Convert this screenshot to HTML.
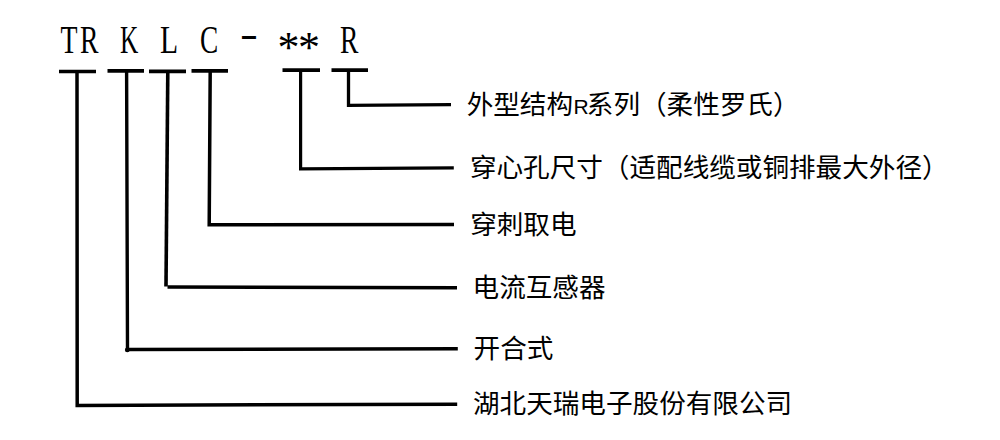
<!DOCTYPE html>
<html lang="zh-CN">
<head>
<meta charset="utf-8">
<title>TR K L C - ** R</title>
<style>
html,body{margin:0;padding:0;background:#fff;}
body{width:1000px;height:440px;overflow:hidden;position:relative;font-family:"Liberation Sans",sans-serif;}
#d{position:absolute;left:0;top:0;width:1000px;height:440px;display:block;}
.top{font-family:"Liberation Serif","Noto Serif CJK SC",serif;font-size:41px;fill:#000;}
.lab{font-family:"Liberation Sans","Noto Sans CJK SC",sans-serif;font-size:26.6px;fill:#000;}
</style>
</head>
<body>
<svg id="d" width="1000" height="440" viewBox="0 0 1000 440">
<rect width="1000" height="440" fill="#fff"/>
<g fill="#000" stroke="none">
<text class="top" x="60.6" y="52.5" textLength="17" lengthAdjust="spacingAndGlyphs">T</text>
<text class="top" x="80.1" y="52.5" textLength="18.5" lengthAdjust="spacingAndGlyphs">R</text>
<text class="top" x="119.9" y="52.5" textLength="18.3" lengthAdjust="spacingAndGlyphs">K</text>
<text class="top" x="160" y="52.5" textLength="18.1" lengthAdjust="spacingAndGlyphs">L</text>
<text class="top" x="199.9" y="52.5" textLength="18.2" lengthAdjust="spacingAndGlyphs">C</text>
<text class="top" x="240" y="47" textLength="17.9" lengthAdjust="spacingAndGlyphs">-</text>
<text class="top" x="288.6" y="62" text-anchor="middle" style="font-size:44px">*</text>
<text class="top" x="308.95" y="62" text-anchor="middle" style="font-size:44px">*</text>
<text class="top" x="340" y="52.5" textLength="18.4" lengthAdjust="spacingAndGlyphs">R</text>
<text class="lab" y="113.99"><tspan x="466.7">外型结构</tspan><tspan x="573.5" style="font-size:21px">R</tspan><tspan x="586.8">系列（柔性罗氏）</tspan></text>
<text class="lab" x="469.9" y="177.25">穿心孔尺寸（适配线缆或铜排最大外径）</text>
<text class="lab" x="470.2" y="234.25">穿刺取电</text>
<text class="lab" x="472.6" y="297.35">电流互感器</text>
<text class="lab" x="473.6" y="357.85">开合式</text>
<text class="lab" x="473" y="413.45">湖北天瑞电子股份有限公司</text>
</g>
<g>
<path d="M59.00 71.50 L96.00 71.50" fill="none" stroke="#000" stroke-width="3.60" stroke-linecap="butt" stroke-linejoin="miter"/>
<path d="M107.50 70.90 L144.00 70.90" fill="none" stroke="#000" stroke-width="3.60" stroke-linecap="butt" stroke-linejoin="miter"/>
<path d="M149.00 71.40 L186.00 71.40" fill="none" stroke="#000" stroke-width="3.60" stroke-linecap="butt" stroke-linejoin="miter"/>
<path d="M191.50 70.90 L228.00 70.90" fill="none" stroke="#000" stroke-width="3.60" stroke-linecap="butt" stroke-linejoin="miter"/>
<path d="M282.50 70.15 L320.00 70.15" fill="none" stroke="#000" stroke-width="3.60" stroke-linecap="butt" stroke-linejoin="miter"/>
<path d="M331.50 70.15 L368.00 70.15" fill="none" stroke="#000" stroke-width="3.60" stroke-linecap="butt" stroke-linejoin="miter"/>
<path d="M348.50 70.20 L348.50 105.40 L451.00 104.70" fill="none" stroke="#000" stroke-width="3.30" stroke-linecap="butt" stroke-linejoin="miter"/>
<path d="M300.60 70.20 L300.60 168.85 L453.80 167.80" fill="none" stroke="#000" stroke-width="3.20" stroke-linecap="butt" stroke-linejoin="miter"/>
<path d="M210.20 71.00 L209.20 224.70 L454.00 224.60" fill="none" stroke="#000" stroke-width="3.50" stroke-linecap="butt" stroke-linejoin="miter"/>
<path d="M167.80 71.40 L166.00 286.50" fill="none" stroke="#000" stroke-width="3.60" stroke-linecap="butt" stroke-linejoin="miter"/>
<path d="M167.50 287.00 L457.00 287.75" fill="none" stroke="#000" stroke-width="3.50" stroke-linecap="butt" stroke-linejoin="miter"/>
<path d="M126.60 71.00 L127.50 349.50 L457.80 348.70" fill="none" stroke="#000" stroke-width="3.40" stroke-linecap="butt" stroke-linejoin="miter"/>
<path d="M77.00 71.50 L77.20 405.40 L457.20 404.20" fill="none" stroke="#000" stroke-width="3.50" stroke-linecap="butt" stroke-linejoin="miter"/>
<circle cx="127.30" cy="349.90" r="2.40" fill="#000"/>
</g>
</svg>
</body>
</html>
